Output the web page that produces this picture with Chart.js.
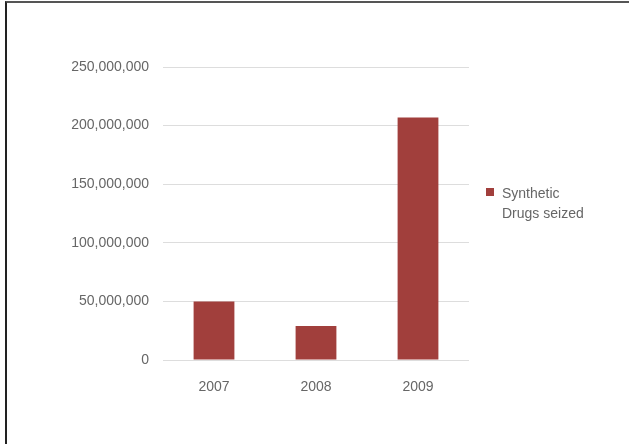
<!DOCTYPE html>
<html>
<head>
<meta charset="utf-8">
<script src="https://cdn.jsdelivr.net/npm/chart.js@4/dist/chart.umd.min.js"></script>
<style>
  html, body { margin: 0; padding: 0; background: #fff; }
  #wrap { position: relative; width: 629px; height: 444px; overflow: hidden; }
  #frame { position: absolute; left: 5px; top: 1px; width: 640px; height: 460px;
           border-top: 2px solid #555; border-left: 2px solid #222; box-sizing: border-box; }
  canvas { position: absolute; left: 0; top: 0; }
  #legend { position: absolute; left: 486px; top: 183px; font-family: "Liberation Sans", Arial, sans-serif;
            font-size: 14px; color: #666; line-height: 20px; }
  #legend .sw { position: absolute; left: 0; top: 5px; width: 8px; height: 8px; }
  #legend .tx { margin-left: 16px; width: 90px; }
</style>
</head>
<body>
<div id="wrap">
  <div id="frame"></div>
  <canvas id="c" width="629" height="444"></canvas>
  <div id="legend"></div>
</div>
<script>
const categories = ["2007", "2008", "2009"];
const seriesName = "Synthetic Drugs seized";
const seizedValues = [50000000, 29000000, 207000000];
const yTicks = [0, 50000000, 100000000, 150000000, 200000000, 250000000];

const barColor = "#A13F3C";
const textColor = "#666666";
const font = { family: "'Liberation Sans', Arial, sans-serif", size: 14 };

const chart = new Chart(document.getElementById("c"), {
  type: "bar",
  data: {
    labels: categories,
    datasets: [{
      label: seriesName,
      data: seizedValues,
      backgroundColor: barColor,
      borderWidth: 0,
      barPercentage: 0.5,
      categoryPercentage: 0.8
    }]
  },
  options: {
    responsive: false,
    animation: false,
    devicePixelRatio: 1,
    layout: { padding: { left: 0, top: 67, right: 160, bottom: 44 } },
    plugins: { legend: { display: false }, tooltip: { enabled: false } },
    scales: {
      x: {
        grid: { display: false, drawTicks: false },
        border: { display: false },
        ticks: { color: textColor, font: font, padding: 19 },
        afterFit: s => { s.height = 40; }
      },
      y: {
        min: 0, max: 250000000,
        afterBuildTicks: s => { s.ticks = yTicks.map(v => ({ value: v })); },
        grid: { color: "#dddddd", lineWidth: 1, drawTicks: false },
        border: { display: false },
        ticks: {
          color: textColor, font: font, padding: 14,
          callback: v => Number(v).toLocaleString("en-US")
        },
        afterFit: s => { s.width = 163; }
      }
    }
  }
});

const lg = document.getElementById("legend");
chart.data.datasets.forEach(ds => {
  const sw = document.createElement("div");
  sw.className = "sw"; sw.style.background = ds.backgroundColor;
  const tx = document.createElement("div");
  tx.className = "tx"; tx.textContent = ds.label;
  lg.appendChild(sw); lg.appendChild(tx);
});
</script>
</body>
</html>
